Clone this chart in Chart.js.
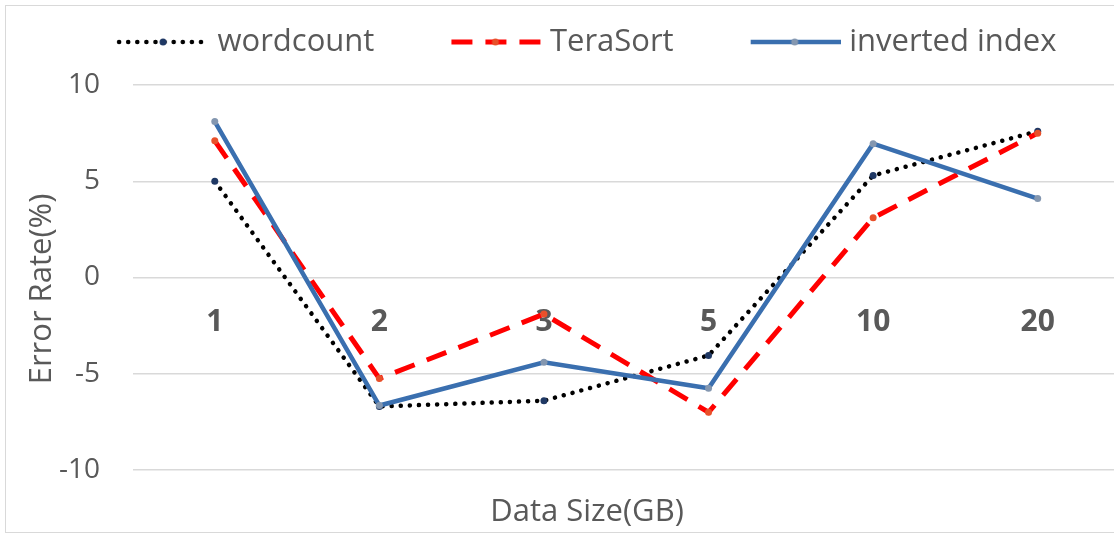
<!DOCTYPE html>
<html>
<head>
<meta charset="utf-8">
<script src="https://cdn.jsdelivr.net/npm/chart.js@4"></script>
<style>
    html, body { margin: 0; padding: 0; background: #fff; overflow: hidden; }
    #wrap { position: relative; width: 1124px; height: 534px; }
    #frame {
        position: absolute; left: 5px; top: 5px; width: 1300px; height: 528px;
        border: 1.5px solid #d9d9d9; box-sizing: border-box; pointer-events: none;
    }
</style>
</head>
<body>
<div id="wrap">
    <canvas id="chart" width="1124" height="534"></canvas>
    <div id="frame"></div>
</div>
<script>
// Data
const categories = ['1', '2', '3', '5', '10', '20'];
const seriesNames = ['wordcount', 'TeraSort', 'inverted index'];
const wordcount = [5.0, -6.7, -6.4, -4.05, 5.3, 7.6];
const teraSort = [7.1, -5.25, -1.9, -7.0, 3.1, 7.5];
const invertedIndex = [8.1, -6.65, -4.4, -5.75, 6.95, 4.1];
const yTicks = [-10, -5, 0, 5, 10];

const FONT = 'Open Sans';
const GREY = '#595959';

// Line styles
const styles = [
    { color: '#000000', width: 4.5, dash: [0.1, 9], cap: 'round', marker: '#1f3864' },
    { color: '#ff0000', width: 5, dash: [21, 13], cap: 'butt', marker: '#e8502a' },
    { color: '#3a6faf', width: 4.5, dash: [], cap: 'butt', marker: '#8497b0' }
];

// Legend sample: the image is a bit wider than the legend box so the line
// runs close to the text, with empty lead-in space on its left
const BOX_W = 136;
const OVERHANG = 7;
const SAMPLE_LEN = 92;

function makeSample(s) {
    const c = document.createElement('canvas');
    c.width = BOX_W + 2 * OVERHANG;
    c.height = 16;
    const start = c.width - SAMPLE_LEN;
    const g = c.getContext('2d');
    g.strokeStyle = s.color;
    g.lineWidth = s.width;
    g.lineCap = s.cap;
    g.setLineDash(s.dash);
    g.beginPath();
    g.moveTo(start + 2, 8);
    g.lineTo(c.width, 8);
    g.stroke();
    g.setLineDash([]);
    g.fillStyle = s.marker;
    g.beginPath();
    g.arc(start + SAMPLE_LEN / 2, 8, 3.5, 0, Math.PI * 2);
    g.fill();
    return c;
}

const samples = styles.map(makeSample);
const values = [wordcount, teraSort, invertedIndex];

const datasets = values.map((data, i) => ({
    label: seriesNames[i],
    data: data,
    xAxisID: 'x',
    borderColor: styles[i].color,
    borderWidth: styles[i].width,
    borderDash: styles[i].dash,
    borderCapStyle: styles[i].cap,
    pointRadius: 3.5,
    pointBorderWidth: 0,
    pointBackgroundColor: styles[i].marker,
    fill: false,
    tension: 0,
    order: 2 - i
}));

// Axis titles sit where the spreadsheet put them, not centred on the plot
const axisTitles = {
    id: 'axisTitles',
    afterDraw(chart, args, opts) {
        const ctx = chart.ctx;
        ctx.save();
        ctx.fillStyle = GREY;
        ctx.font = `31px "${FONT}"`;
        ctx.textAlign = 'center';
        ctx.textBaseline = 'middle';
        ctx.fillText(opts.x.text, opts.x.cx, opts.x.cy);
        ctx.translate(opts.y.cx, opts.y.cy);
        ctx.rotate(-Math.PI / 2);
        ctx.fillText(opts.y.text, 0, 0);
        ctx.restore();
    }
};

new Chart(document.getElementById('chart'), {
    type: 'line',
    data: { labels: categories, datasets: datasets },
    plugins: [axisTitles],
    options: {
        responsive: false,
        animation: false,
        layout: { padding: { top: 2.5, right: 1.5, bottom: 0, left: 0 } },
        plugins: {
            tooltip: { enabled: false },
            axisTitles: {
                x: { text: 'Data Size(GB)', cx: 587, cy: 512 },
                y: { text: 'Error Rate(%)', cx: 42, cy: 289 }
            },
            legend: {
                position: 'top',
                labels: {
                    usePointStyle: true,
                    pointStyleWidth: BOX_W,
                    padding: 24,
                    color: GREY,
                    font: { family: FONT, size: 31 },
                    generateLabels: () => seriesNames.map((name, i) => ({
                        text: name,
                        fontColor: GREY,
                        pointStyle: samples[i],
                        datasetIndex: i,
                        hidden: false,
                        lineWidth: 0
                    }))
                }
            }
        },
        scales: {
            x: {
                type: 'category',
                position: 'bottom',
                offset: true,
                grid: { display: false },
                border: { display: false },
                ticks: { display: false },
                afterFit: (scale) => { scale.height = 64; }
            },
            xTop: {
                type: 'category',
                position: 'top',
                labels: categories,
                grid: { display: false },
                border: { display: false },
                ticks: { display: false },
                afterFit: (scale) => { scale.height = 17.5; }
            },
            xLab: {
                type: 'category',
                position: { y: 0 },
                labels: categories,
                offset: true,
                grid: { display: false, drawTicks: false },
                border: { display: false },
                ticks: {
                    color: GREY,
                    padding: 27,
                    font: { family: FONT, size: 30, weight: 'bold' }
                }
            },
            y: {
                min: -10,
                max: 10,
                afterBuildTicks: (scale) => { scale.ticks = yTicks.map(v => ({ value: v })); },
                grid: { color: '#d9d9d9', lineWidth: 1.5, drawTicks: false },
                border: { display: false },
                ticks: {
                    color: GREY,
                    padding: 32.5,
                    font: { family: FONT, size: 28 }
                },
                afterFit: (scale) => { scale.width = 132.5; }
            }
        }
    }
});
</script>
</body>
</html>
